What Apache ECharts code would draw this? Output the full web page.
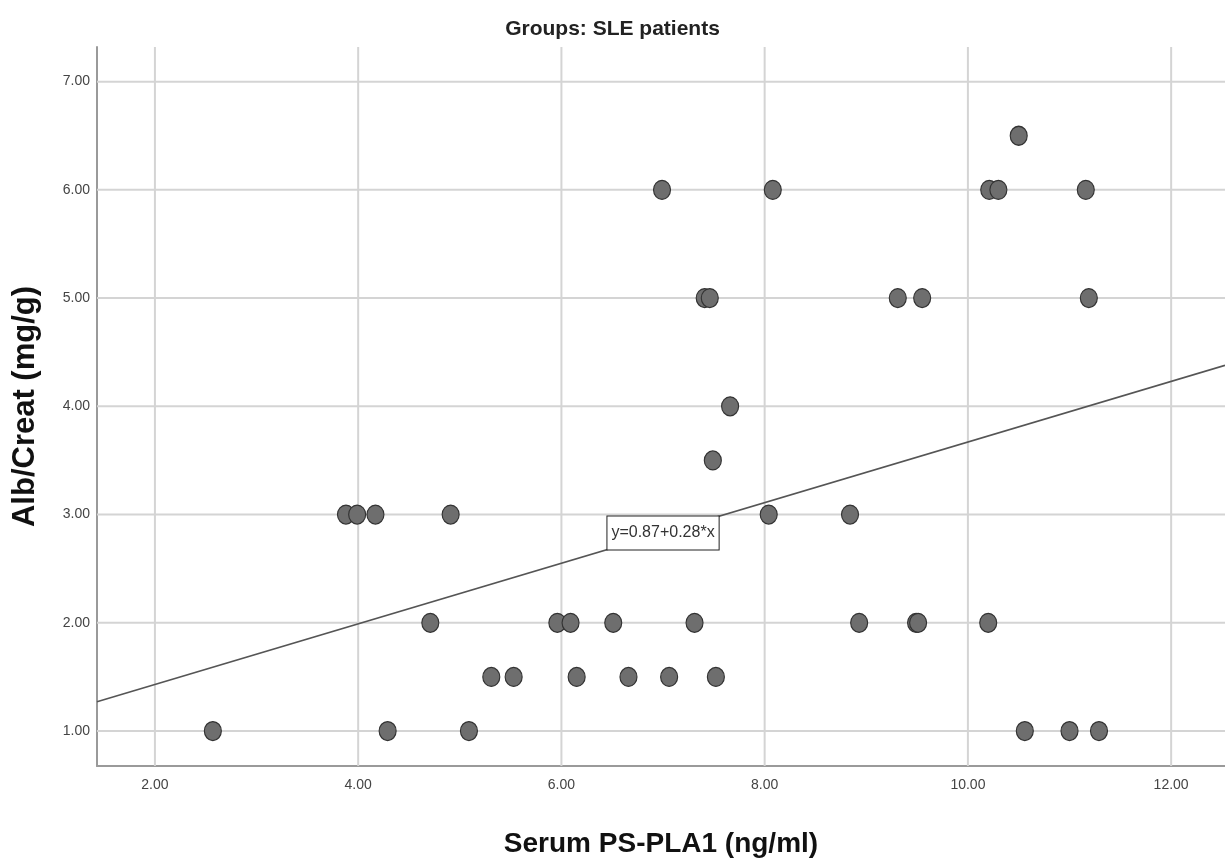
<!DOCTYPE html>
<html>
<head>
<meta charset="utf-8">
<script src="https://cdn.jsdelivr.net/npm/echarts@6/dist/echarts.min.js"></script>
<style>html,body{margin:0;padding:0;background:#fff}#c{width:1225px;height:863px}</style>
</head>
<body>
<div id="c"></div>
<script>
// Data
const psPla1 = [2.57, 4.29, 5.09, 10.56, 11.00, 11.29,
  5.31, 5.53, 6.15, 6.66, 7.06, 7.52,
  4.71, 5.96, 6.09, 6.51, 7.31, 8.93, 9.49, 9.51, 10.20,
  3.88, 3.99, 4.17, 4.91, 8.04, 8.84,
  7.49, 7.66,
  7.41, 7.46, 9.31, 9.55, 11.19,
  6.99, 8.08, 10.21, 10.30, 11.16,
  10.50];
const albCreat = [1, 1, 1, 1, 1, 1,
  1.5, 1.5, 1.5, 1.5, 1.5, 1.5,
  2, 2, 2, 2, 2, 2, 2, 2, 2,
  3, 3, 3, 3, 3, 3,
  3.5, 4,
  5, 5, 5, 5, 5,
  6, 6, 6, 6, 6,
  6.5];
const xTicks = [2, 4, 6, 8, 10, 12];
const yTicks = [1, 2, 3, 4, 5, 6, 7];
const fitIntercept = 0.87;
const fitSlope = 0.28;
const fitLabel = 'y=0.87+0.28*x';
const fitLabelX = 7.0;
const xRange = [1.43, 12.53];
const yRange = [0.677, 7.32];

const points = psPla1.map((x, i) => [x, albCreat[i]]);
const fitLine = xRange.map(x => [x, fitIntercept + fitSlope * x]);

const gridColor = '#d4d4d4';
const gridSeries = xTicks.map(v => ({
  type: 'line', data: [[v, yRange[0]], [v, yRange[1]]], symbol: 'none', silent: true, z: 1,
  lineStyle: { color: gridColor, width: 2 }
})).concat(yTicks.map(v => ({
  type: 'line', data: [[xRange[0], v], [xRange[1], v]], symbol: 'none', silent: true, z: 1,
  lineStyle: { color: gridColor, width: 2 }
})));

const chart = echarts.init(document.getElementById('c'));
chart.setOption({
  animation: false,
  title: {
    text: 'Groups: SLE patients', left: 'center', top: 14,
    textStyle: { fontFamily: 'Liberation Sans', fontSize: 21, fontWeight: 'bold', color: '#222' }
  },
  grid: { left: 97, right: 0, top: 47, bottom: 97 },
  xAxis: {
    type: 'value', min: xRange[0], max: xRange[1],
    name: 'Serum PS-PLA1 (ng/ml)', nameLocation: 'middle', nameGap: 64,
    nameTextStyle: { fontFamily: 'Liberation Sans', fontSize: 28, fontWeight: 'bold', color: '#111' },
    axisLine: { show: true, onZero: false, lineStyle: { color: '#9a9a9a', width: 2 } },
    axisTick: { show: false },
    splitLine: { show: false },
    axisLabel: {
      customValues: xTicks, formatter: v => v.toFixed(2), margin: 12,
      fontFamily: 'Liberation Sans', fontSize: 14, color: '#444'
    }
  },
  yAxis: {
    type: 'value', min: yRange[0], max: yRange[1],
    name: 'Alb/Creat (mg/g)', nameLocation: 'middle', nameGap: 56, nameRotate: 90,
    nameTextStyle: { fontFamily: 'Liberation Sans', fontSize: 31, fontWeight: 'bold', color: '#111' },
    axisLine: { show: true, onZero: false, lineStyle: { color: '#9a9a9a', width: 2 } },
    axisTick: { show: false },
    splitLine: { show: false },
    axisLabel: {
      customValues: yTicks, formatter: v => v.toFixed(2), margin: 7,
      fontFamily: 'Liberation Sans', fontSize: 14, color: '#444'
    }
  },
  series: gridSeries.concat([
    {
      type: 'line', data: fitLine, symbol: 'none', z: 2, silent: true,
      lineStyle: { color: '#555', width: 1.6 }
    },
    {
      type: 'scatter', data: points, z: 3,
      symbol: 'circle', symbolSize: [17, 19],
      itemStyle: { color: '#6e6e6e', borderColor: '#333', borderWidth: 1.2, opacity: 1 }
    }
  ])
});
const p = chart.convertToPixel({ gridIndex: 0 }, [fitLabelX, fitIntercept + fitSlope * fitLabelX]);
chart.setOption({
  graphic: [{
    type: 'text', z: 100, x: p[0], y: p[1],
    style: {
      text: fitLabel, align: 'center', verticalAlign: 'middle',
      font: '16px "Liberation Sans"', fill: '#333',
      backgroundColor: '#fff', borderColor: '#222', borderWidth: 1,
      padding: [9, 4, 8, 4]
    }
  }]
});
</script>
</body>
</html>
